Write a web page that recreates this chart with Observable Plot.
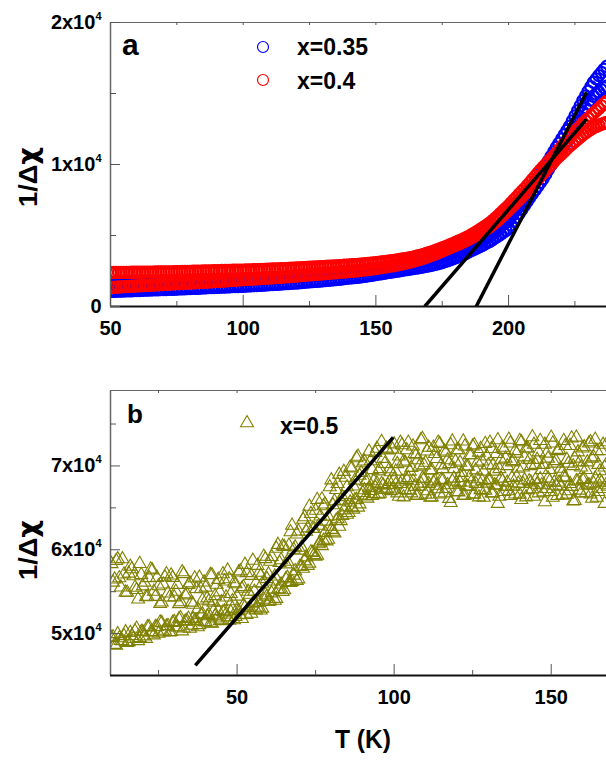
<!DOCTYPE html>
<html>
<head>
<meta charset="utf-8">
<script src="https://cdn.jsdelivr.net/npm/d3@7"></script>
<script src="https://cdn.jsdelivr.net/npm/@observablehq/plot@0.6"></script>
<style>
  html, body { margin: 0; padding: 0; background: #fff; overflow: hidden; }
  #chart { position: relative; width: 606px; height: 760px; overflow: hidden; background: #fff; }
  #chart svg { position: absolute; left: 0; }
</style>
</head>
<body>
<div id="chart"></div>
<script>
// ---------- Panel a: 1/Δχ versus T for x = 0.35 (blue) and x = 0.4 (red) ----------
const tempA = [50,51,52,53,54,55,56,57,58,59,60,61,62,63,64,65,66,67,68,69,70,71,72,73,74,75,
  76,77,78,79,80,81,82,83,84,85,86,87,88,89,90,91,92,93,94,95,96,97,98,99,100,
  101,102,103,104,105,106,107,108,109,110,111,112,113,114,115,116,117,118,119,120,121,122,123,124,125,
  126,127,128,129,130,131,132,133,134,135,136,137,138,139,140,141,142,143,144,145,146,147,148,149,150,
  151,152,153,154,155,156,157,158,159,160,161,162,163,164,165,
  166,167,168,169,170,171,172,173,174,175,176,177,178,179,180,181,182,183,184,185,
  186,187,188,189,190,191,192,193,194,195,196,197,198,199,200,
  201,202,203,204,205,206,207,208,209,210,211,212,213,214,215,216,217,218,
  219,220,221,222,223,224,225,226,227,228,229,230,231,232,233,234,235,236,237];

// x = 0.4, upper branch
const red1 = [2390,2390,2390,2400,2400,2400,2400,2400,2410,2410,2410,2410,2410,2420,2420,2420,2420,2430,2430,2430,2430,2440,2440,2440,2450,2450,
  2450,2460,2460,2470,2470,2480,2480,2490,2490,2500,2500,2510,2510,2520,2520,2520,2530,2530,2540,2540,2550,2550,2550,2560,2560,
  2570,2570,2580,2590,2590,2600,2610,2610,2620,2630,2640,2640,2650,2660,2670,2670,2680,2690,2700,2710,2720,2730,2740,2750,2760,
  2770,2780,2790,2800,2810,2820,2830,2840,2850,2860,2870,2880,2900,2910,2920,2940,2950,2970,2980,3000,3010,3030,3050,3070,3090,
  3110,3130,3150,3170,3200,3220,3250,3280,3310,3340,3370,3410,3440,3480,3520,
  3570,3620,3670,3730,3790,3850,3920,3990,4060,4130,
  4200,4270,4350,4430,4510,4590,4670,4760,4850,4940,
  5050,5160,5270,5390,5510,5630,5760,5890,
  6050,6210,6380,6560,6740,6920,7100,
  7300,7500,7700,7900,8100,8300,8500,
  8720,8940,9160,9380,9600,9800,
  10000,10200,10400,10600,10800,
  11020,11240,11460,11680,11900,
  12100,12300,12500,12700,12900,
  13080,13250,13430,13600,
  13780,13950,14130,14300,14450];

// x = 0.4, lower branch
const red2 = [1340,1350,1360,1370,1380,1400,1410,1420,1430,1440,1450,1460,1470,1480,1490,1500,1510,1520,1530,1540,1550,1560,1570,1590,1600,1610,
  1620,1630,1640,1650,1660,1670,1680,1690,1700,1710,1720,1730,1740,1760,1770,1780,1790,1800,1810,1820,1840,1850,1860,1880,1890,
  1900,1910,1920,1940,1950,1960,1970,1990,2000,2010,2020,2040,2050,2060,2080,2090,2100,2120,2130,2150,2160,2180,2190,2210,2230,
  2240,2260,2270,2290,2300,2320,2330,2350,2370,2380,2400,2420,2430,2450,2470,2490,2500,2520,2540,2560,2580,2600,2620,2650,2680,
  2710,2740,2770,2800,2830,2860,2890,2930,2970,3010,3050,3090,3130,3180,3230,
  3290,3350,3410,3470,3540,3610,3680,3750,3830,3910,
  3990,4070,4150,4230,4310,4390,4470,4560,4650,4740,
  4840,4940,5040,5150,5260,5380,5500,5630,
  5780,5930,6090,6260,6440,6620,6800,
  6980,7170,7360,7540,7730,7920,8100,
  8320,8540,8760,8980,9190,9400,
  9600,9800,10000,10200,10400,
  10580,10760,10940,11120,11300,
  11460,11620,11780,11940,12100,
  12230,12360,12480,12600,
  12680,12760,12830,12900,12960];

// x = 0.35, upper branch
const blue1 = [1480,1490,1490,1500,1510,1510,1520,1530,1530,1540,1550,1550,1560,1570,1570,1580,1590,1590,1600,1600,1610,1620,1620,1630,1640,1640,
  1650,1660,1670,1670,1680,1690,1700,1710,1710,1720,1730,1740,1750,1750,1760,1770,1780,1790,1790,1800,1810,1820,1830,1840,1850,
  1860,1870,1880,1890,1900,1910,1920,1940,1950,1960,1970,1980,2000,2010,2020,2030,2050,2060,2070,2090,2100,2110,2130,2140,2150,
  2160,2180,2190,2210,2220,2240,2250,2270,2290,2300,2320,2340,2360,2370,2390,2410,2430,2450,2470,2490,2510,2530,2550,2580,2600,
  2620,2650,2670,2700,2720,2750,2780,2810,2840,2870,2900,2930,2970,3010,3050,
  3090,3130,3170,3210,3250,3300,3350,3400,3450,3500,
  3560,3630,3700,3770,3850,3930,4010,4100,4200,4300,
  4390,4480,4570,4660,4760,4870,4980,5100,
  5230,5360,5500,5640,5790,5940,6100,
  6350,6600,6870,7140,7420,7710,8000,
  8270,8540,8810,9070,9340,9600,
  9920,10240,10560,10880,11200,
  11500,11800,12100,12400,12700,
  13060,13420,13780,14140,14500,
  14830,15160,15480,15800,
  16030,16260,16480,16700,16900];

// x = 0.35, lower branch
const blue2 = [1060,1070,1070,1080,1090,1090,1100,1110,1110,1120,1130,1130,1140,1150,1160,1160,1170,1180,1180,1190,1200,1200,1210,1220,1220,1230,
  1240,1250,1250,1260,1270,1280,1290,1290,1300,1310,1320,1330,1330,1340,1350,1360,1370,1370,1380,1390,1400,1410,1410,1420,1430,
  1440,1450,1460,1470,1480,1490,1500,1510,1520,1540,1550,1560,1570,1580,1600,1610,1620,1630,1650,1660,1670,1690,1700,1720,1740,
  1750,1770,1780,1800,1810,1830,1850,1870,1880,1900,1920,1940,1960,1980,2000,2020,2040,2060,2080,2110,2130,2160,2180,2210,2250,
  2280,2310,2340,2370,2400,2430,2460,2490,2520,2550,2580,2610,2640,2670,2700,
  2730,2760,2790,2830,2870,2910,2950,2990,3040,3100,
  3160,3220,3290,3360,3430,3500,3580,3660,3750,3850,
  3940,4030,4120,4210,4300,4400,4500,4600,
  4720,4840,4960,5090,5220,5360,5500,
  5740,6000,6270,6550,6830,7110,7400,
  7670,7940,8210,8470,8740,9000,
  9320,9640,9960,10280,10600,
  10860,11120,11380,11640,11900,
  12260,12620,12980,13340,13700,
  13980,14260,14530,14800,
  14960,15110,15260,15400,15520];

// Linear fits drawn through the steep part of each curve
const fitBlueT = [187.8, 229.4], fitBlueV = [0, 15100];
const fitRedT  = [168.4, 229.4], fitRedV  = [0, 13200];

const xMajorA = [50, 100, 150, 200], xMinorA = [75, 125, 175, 225];
const yMajorA = [0, 10000, 20000], yMinorA = [5000, 15000];
const yLabelsA = ["0", "1x10^4", "2x10^4"];

// ---------- Panel b: 1/Δχ versus T for x = 0.5 ----------
// readings on whole kelvins
const tempB = [10,11,12,13,14,15,16,17,18,19,20,21,22,23,24,25,26,27,28,29,30,31,32,33,34,35,36,37,38,39,
  40,41,42,43,44,45,46,47,48,49,50,51,52,53,54,55,56,57,58,59,60,61,62,63,64,65,66,67,68,69,
  70,71,72,73,74,75,76,77,78,79,80,81,82,83,84,85,86,87,88,89,90,91,92,93,94,95,96,97,98,99,
  100,101,102,103,104,105,106,107,108,109,110,111,112,113,114,115,116,117,118,119,
  120,121,122,123,124,125,126,127,128,129,130,131,132,133,134,135,136,137,138,139,
  140,141,142,143,144,145,146,147,148,149,150,151,152,153,154,155,156,157,158,159,
  160,161,162,163,164,165,166,167,168];

const upperB = [58320,56480,58890,55520,57080,54900,58010,56870,55220,58330,
  55660,54370,56650,57570,54410,55670,53740,56740,54810,56960,
  54350,55840,53760,57120,54700,56020,53470,55340,56700,53980,
  55510,53870,56990,54500,56430,53770,56250,57540,54750,56040,
  54440,57470,55570,57240,54660,58710,56040,57280,55970,58910,
  57090,59170,56830,60610,58780,60350,58600,62120,60030,61850,
  59930,63600,62170,65160,62540,64680,62890,66030,65430,63980,
  68310,65800,67880,65880,69320,67490,69830,67580,70940,68860,
  70350,68150,71730,69530,71580,69380,72880,70260,71890,69270,
  72600,70250,72800,70550,71900,69350,72350,71300,69950,73250,
  70400,72200,69500,71450,72800,70100,71750,70700,72500,69650,
  71900,70400,72950,69950,71300,72350,69500,71600,70550,72650,
  70100,72050,69350,73100,70700,71950,70000,72700,70600,71500,
  73000,69850,72100,70750,73450,70150,71650,69550,72550,70900,
  73400,70300,71800,69700,73000,70750,72400,70000,73400,70450,
  72100,69550,72700,70900,73150,70150,71800,69850,72850];

const lowerB = [49500,48680,49960,49140,49720,48900,50100,49400,50600,49500,
  50200,49400,50800,50200,50800,50000,51280,50360,50940,50220,
  51400,50780,51860,50640,51520,50600,51780,51560,51040,52320,
  51400,52260,51220,52080,52740,51600,52680,51960,52540,51620,
  52900,52220,53340,52260,53080,53600,52800,53700,53000,54600,
  53800,54820,53940,55260,55880,55200,56680,56060,56940,56320,
  58000,57760,59120,58380,59640,59200,60680,60460,62040,61220,
  62400,61980,63660,63440,64720,64200,65660,64820,65980,65440,
  66800,66380,67360,66440,67420,66600,67880,67160,67740,67020,
  68400,66760,67880,66280,68360,67080,68200,66440,67560,68520,
  66600,67880,66280,68200,67240,68360,66760,67720,65600,68520,
  66920,68040,66440,67560,68680,66600,67880,66280,68200,67080,
  68360,66760,67720,65500,68520,66920,68040,66440,67560,68680,
  66600,67880,66280,68200,67240,68360,66760,67720,65700,68520,
  66920,68040,66440,67560,68680,66600,67880,65800,68200,67080,
  68360,66760,67720,66120,68520,66920,68040,65500,67560];

// readings on half kelvins
const tempB2 = [10.5,11.5,12.5,13.5,14.5,15.5,16.5,17.5,18.5,19.5,20.5,21.5,22.5,23.5,24.5,25.5,26.5,27.5,28.5,29.5,
  30.5,31.5,32.5,33.5,34.5,35.5,36.5,37.5,38.5,39.5,40.5,41.5,42.5,43.5,44.5,45.5,46.5,47.5,48.5,49.5,
  50.5,51.5,52.5,53.5,54.5,55.5,56.5,57.5,58.5,59.5,60.5,61.5,62.5,63.5,64.5,65.5,66.5,67.5,68.5,69.5,
  70.5,71.5,72.5,73.5,74.5,75.5,76.5,77.5,78.5,79.5,80.5,81.5,82.5,83.5,84.5,85.5,86.5,87.5,88.5,89.5,
  90.5,91.5,92.5,93.5,94.5,95.5,96.5,97.5,98.5,99.5,100.5,101.5,102.5,103.5,104.5,105.5,106.5,107.5,108.5,109.5,
  110.5,111.5,112.5,113.5,114.5,115.5,116.5,117.5,118.5,119.5,120.5,121.5,122.5,123.5,124.5,125.5,126.5,127.5,128.5,129.5,
  130.5,131.5,132.5,133.5,134.5,135.5,136.5,137.5,138.5,139.5,140.5,141.5,142.5,143.5,144.5,145.5,146.5,147.5,148.5,149.5,
  150.5,151.5,152.5,153.5,154.5,155.5,156.5,157.5,158.5,159.5,160.5,161.5,162.5,163.5,164.5,165.5,166.5,167.5];

const upperB2 = [56110,58690,56630,58890,54910,57180,57700,55500,54100,57020,
  56110,54410,57670,55010,56670,53550,55890,57110,54330,56670,
  55020,53540,57340,54580,55820,53720,56600,52920,55320,56120,
  54230,57010,53710,55850,54950,57110,54330,56510,53890,55910,
  57310,55370,58230,55010,56910,55010,58110,56890,59190,56530,
  58590,56250,60150,58450,60430,58290,60510,62890,60310,62210,
  60260,63900,62580,64300,62500,65970,63990,65210,63390,67490,
  65330,67150,68970,66310,68610,66550,69730,68270,71130,69190,
  70550,68330,70590,68210,72070,69650,70870,72090,69630,71970,
  69350,71150,72500,70400,72800,69800,71450,70700,73100,70100,
  71750,69500,72200,70850,72650,69650,71600,70250,72950,70550,
  71900,69200,72350,69950,71300,72500,70400,72050,69350,71150,
  72800,70100,71450,69650,72200,70900,73150,70450,71800,69700,
  72850,71050,72100,70000,72550,70750,73000,70150,71500,69550,
  72700,70600,71950,69250,72400,70300,73300,70900,71650,69850,
  72250,70450,72850,71050,71800,69400,72550,70150];

const lowerB2 = [49590,48590,49480,49110,50180,49010,49740,50290,49130,50220,
  49690,50780,50160,49810,50810,51350,50170,50880,50150,51310,
  50760,51740,50290,51450,51800,50980,51510,50780,52210,51390,
  52090,51250,52660,51820,51520,52580,52300,51570,53000,52000,
  52730,51770,53150,52910,52400,53730,53120,52780,54060,54440,
  53890,55290,54170,55300,54990,56510,56080,56190,57470,56500,
  58000,58640,58110,59740,59390,59320,60880,61090,61030,62770,
  62170,63460,62770,64060,65080,64420,65050,65950,65050,66490,
  67120,66130,67030,66670,67930,66710,67690,67320,68120,67210,
  67790,66360,68180,67140,68570,66750,67530,66490,67920,68440,
  67010,66230,68050,67660,66620,68310,67270,66100,68180,67790,
  66880,68570,66490,67530,68050,66620,68440,67140,66230,67920,
  68310,66750,67660,66360,68180,67530,67010,68570,66620,67920,
  65970,68310,67140,68050,66360,67790,68440,66880,67270,68180,
  66230,67660,68050,66490,68570,67010,67530,65840,68180,66750,
  68440,67660,66620,67920,66230,68310,67270,67790];

const fitBT = [36.7, 99.7], fitBV = [46200, 73400];

const xMajorB = [50, 100, 150], xMinorB = [25, 75, 125];
const yMajorB = [50000, 60000, 70000], yMinorB = [55000, 65000, 75000];
const yLabelsB = ["5x10^4", "6x10^4", "7x10^4"];

// ---------- helpers ----------
const FONT = "'Liberation Sans', Arial, Helvetica, sans-serif";
const W = 606, ML = 110;
const rows = (ts, vs) => ts.map((T, i) => ({T, v: vs[i]}));

function panel({height, marginTop, marginBottom, xDomain, yDomain, dataMarks, fits,
                xMajor, xMinor, yMajor, yMinor, yLabels}) {
  const plotH = height - marginTop - marginBottom;
  const plotW = W - ML;
  const tick = "#555";
  const svg = Plot.plot({
    width: W, height, marginLeft: ML, marginRight: 0, marginTop, marginBottom,
    x: {domain: xDomain}, y: {domain: yDomain},
    style: {font: `bold 20px ${FONT}`, background: "white", overflow: "hidden", color: "#000"},
    marks: [
      ...dataMarks,
      ...fits.map(f => Plot.line(rows(f[0], f[1]), {x: "T", y: "v", stroke: "#000",
        strokeWidth: 3.5, strokeLinecap: "butt", clip: true})),
      Plot.ruleY([yDomain[1]], {stroke: "#666", strokeWidth: 1}),
      Plot.ruleX([xDomain[0]], {stroke: "#666", strokeWidth: 1.5}),
      Plot.ruleY([yDomain[0]], {stroke: "#111", strokeWidth: 2}),
      Plot.tickX(xMajor, {x: d => d, insetTop: plotH - 11, stroke: tick}),
      Plot.tickX(xMinor, {x: d => d, insetTop: plotH - 5, stroke: tick}),
      Plot.tickX([...xMajor, ...xMinor].filter(d => d > xDomain[0]), {x: d => d, insetBottom: plotH - 3, stroke: tick}),
      Plot.tickY(yMajor, {y: d => d, insetRight: plotW - 10, stroke: tick}),
      Plot.tickY(yMinor, {y: d => d, insetRight: plotW - 6, stroke: tick}),
      Plot.axisX(xMajor, {tickSize: 0, tickPadding: 14, label: null, tickFormat: d => String(d)}),
      Plot.axisY(yMajor, {tickSize: 0, tickPadding: 9, label: null, tickFormat: d => yLabels[yMajor.indexOf(d)]})
    ]
  });
  // exponent of the tick labels as a raised, smaller digit
  svg.querySelectorAll("text").forEach(t => {
    const s = t.textContent;
    if (!s.includes("^")) return;
    const [base, exp] = s.split("^");
    t.textContent = base;
    d3.select(t).append("tspan").attr("dy", -9).attr("font-size", 11).text(exp);
  });
  return svg;
}

function label(svg, {x, y, text, size, anchor = "start", length = null}) {
  const t = d3.select(svg).append("text")
    .attr("font-family", FONT).attr("font-weight", "bold").attr("font-size", size)
    .attr("fill", "#000").attr("text-anchor", anchor).attr("x", x).attr("y", y).text(text);
  if (length) t.attr("textLength", length).attr("lengthAdjust", "spacingAndGlyphs");
  return t;
}

// y-axis title: "1/Δ" followed by a Greek chi that keeps its descender
function yTitle(svg, x, y) {
  const t = d3.select(svg).append("text")
    .attr("font-family", FONT).attr("font-weight", "bold").attr("font-size", 26)
    .attr("fill", "#000").attr("text-anchor", "middle")
    .attr("transform", `translate(${x},${y}) rotate(-90)`)
    .attr("textLength", 60).attr("lengthAdjust", "spacingAndGlyphs");
  t.append("tspan").text("1/Δ");
  t.append("tspan").attr("font-family", "'DejaVu Sans', sans-serif").text("χ");
}

const root = document.getElementById("chart");

// ---------- panel a ----------
const circle = (vals, color) => Plot.dot(rows(tempA, vals), {x: "T", y: "v", r: 5.6,
  stroke: color, strokeWidth: 2.2, fill: "none", clip: true});

const svgA = panel({
  height: 360, marginTop: 22, marginBottom: 54,
  xDomain: [50, 236.9], yDomain: [0, 20000],
  dataMarks: [circle(blue1, "#0000ff"), circle(blue2, "#0000ff"), circle(red1, "#ff0000"), circle(red2, "#ff0000")],
  fits: [[fitBlueT, fitBlueV], [fitRedT, fitRedV]],
  xMajor: xMajorA, xMinor: xMinorA, yMajor: yMajorA, yMinor: yMinorA, yLabels: yLabelsA
});
svgA.style.top = "0px";
root.appendChild(svgA);

label(svgA, {x: 122, y: 55, text: "a", size: 30});
yTitle(svgA, 37, 177);
const legA = d3.select(svgA);
legA.append("circle").attr("cx", 263).attr("cy", 47).attr("r", 5.5)
  .attr("fill", "none").attr("stroke", "#0000ff").attr("stroke-width", 1.2);
legA.append("circle").attr("cx", 263).attr("cy", 80).attr("r", 5.5)
  .attr("fill", "none").attr("stroke", "#ff0000").attr("stroke-width", 1.2);
label(svgA, {x: 297, y: 55, text: "x=0.35", size: 23});
label(svgA, {x: 297, y: 89, text: "x=0.4", size: 23});

// ---------- panel b ----------
const tri = (ts, vals) => Plot.dot(rows(ts, vals), {x: "T", y: "v", symbol: "triangle", r: 4.8,
  stroke: "#808000", strokeWidth: 1.1, fill: "none", clip: true});

const svgB = panel({
  height: 400, marginTop: 30, marginBottom: 85,
  xDomain: [9.7, 167.6], yDomain: [45000, 79000],
  dataMarks: [tri(tempB, lowerB), tri(tempB2, lowerB2), tri(tempB, upperB), tri(tempB2, upperB2)],
  fits: [[fitBT, fitBV]],
  xMajor: xMajorB, xMinor: xMinorB, yMajor: yMajorB, yMinor: yMinorB, yLabels: yLabelsB
});
svgB.style.top = "360px";
root.appendChild(svgB);

label(svgB, {x: 127, y: 63, text: "b", size: 26});
yTitle(svgB, 37, 190);
d3.select(svgB).append("path")
  .attr("d", d3.symbol(d3.symbolTriangle, Math.PI * 4.8 * 4.8)())
  .attr("transform", "translate(247,63)")
  .attr("fill", "none").attr("stroke", "#808000").attr("stroke-width", 1.1);
label(svgB, {x: 280, y: 74, text: "x=0.5", size: 23});
label(svgB, {x: 363, y: 388, text: "T (K)", size: 26, anchor: "middle", length: 56});
</script>
</body>
</html>
